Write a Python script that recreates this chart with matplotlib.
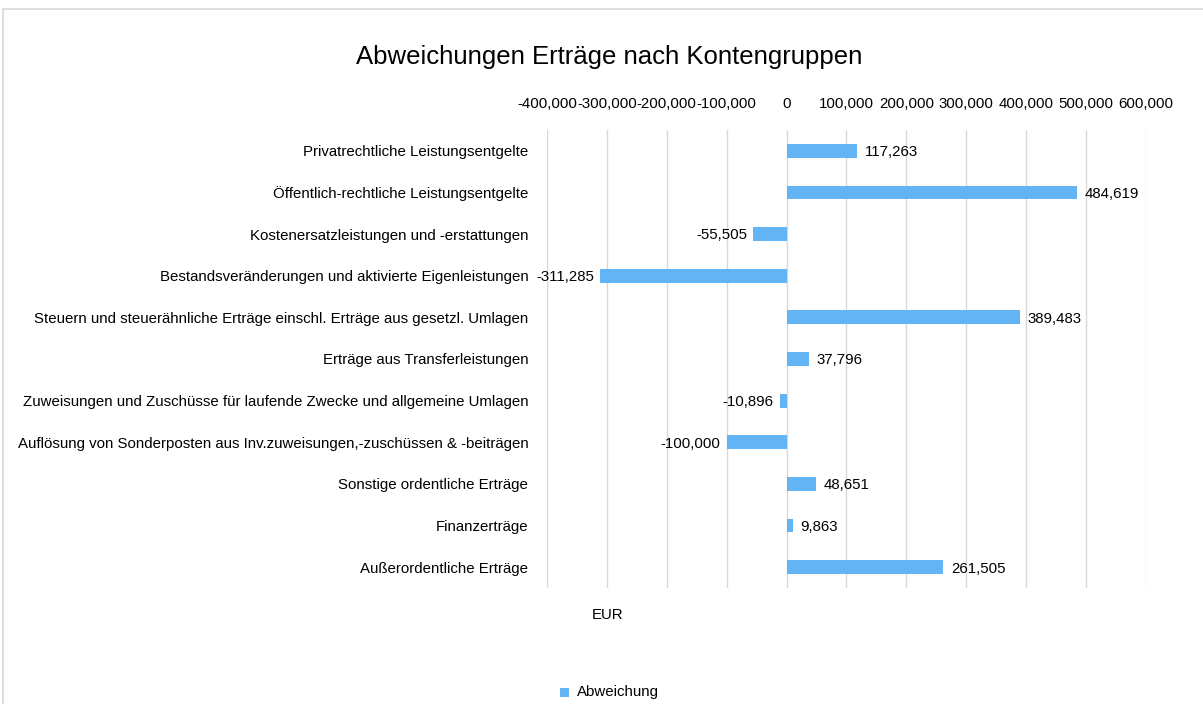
import matplotlib
matplotlib.use("Agg")
import matplotlib.pyplot as plt
from matplotlib.patches import Rectangle
from matplotlib.ticker import FuncFormatter

plt.rcParams['font.family'] = ['Liberation Sans', 'DejaVu Sans']

# Kontengruppen (top to bottom)
categories = [
    "Privatrechtliche Leistungsentgelte",
    "Öffentlich-rechtliche Leistungsentgelte",
    "Kostenersatzleistungen und -erstattungen",
    "Bestandsveränderungen und aktivierte Eigenleistungen",
    "Steuern und steuerähnliche Erträge einschl. Erträge aus gesetzl. Umlagen",
    "Erträge aus Transferleistungen",
    "Zuweisungen und Zuschüsse für laufende Zwecke und allgemeine Umlagen",
    "Auflösung von Sonderposten aus Inv.zuweisungen,-zuschüssen & -beiträgen",
    "Sonstige ordentliche Erträge",
    "Finanzerträge",
    "Außerordentliche Erträge",
]
abweichung = [117263, 484619, -55505, -311285, 389483, 37796, -10896, -100000, 48651, 9863, 261505]
x_ticks = [-400000, -300000, -200000, -100000, 0, 100000, 200000, 300000, 400000, 500000, 600000]

bar_color = '#63B4F4'
grid_color = '#D9D9D9'
fs = 10.8
W, H = 1203, 704

fig = plt.figure(figsize=(W / 100, H / 100), dpi=100)

# chart border (light gray frame)
fig.patches.append(Rectangle((3 / W, -0.1), 1.2, 1 - 9 / H + 0.1, transform=fig.transFigure,
                             fill=False, edgecolor=grid_color, linewidth=1.2))

ax = fig.add_axes([547 / W, 1 - 588 / H, 599 / W, 458 / H])

ypos = list(range(len(categories)))
ax.barh(ypos, abweichung, height=0.33, color=bar_color, zorder=3)

ax.set_xlim(-400000, 600000)
ax.set_ylim(len(categories) - 0.5, -0.5)
ax.set_xticks(x_ticks)
ax.xaxis.set_major_formatter(FuncFormatter(lambda v, p: f"{int(v):,}"))
ax.xaxis.tick_top()
ax.tick_params(axis='x', length=0, pad=13.5, labelsize=fs, colors='#000000')
ax.set_yticks(ypos)
ax.set_yticklabels(categories)
ax.tick_params(axis='y', length=0, pad=13.5, labelsize=fs)
ax.grid(axis='x', color=grid_color, linewidth=1.0, zorder=0)
for s in ax.spines.values():
    s.set_visible(False)

# data labels
for y, v in zip(ypos, abweichung):
    if v >= 0:
        ax.annotate(f"{v:,}", (v, y), xytext=(5.5, -1), textcoords='offset points',
                    ha='left', va='center', fontsize=fs)
    else:
        ax.annotate(f"{v:,}", (v, y), xytext=(-4.5, -1), textcoords='offset points',
                    ha='right', va='center', fontsize=fs)

fig.text(609 / W, 1 - 57 / H, "Abweichungen Erträge nach Kontengruppen",
         ha='center', va='center', fontsize=18.5)
fig.text(608 / W, 1 - 615 / H, "EUR", ha='center', va='center', fontsize=fs)

# legend
fig.patches.append(Rectangle((560 / W, 1 - 697 / H), 9 / W, 9 / H, transform=fig.transFigure,
                             facecolor=bar_color, edgecolor='none'))
fig.text(577 / W, 1 - 692 / H, "Abweichung", ha='left', va='center', fontsize=fs)

fig.savefig("out.png", dpi=100)
